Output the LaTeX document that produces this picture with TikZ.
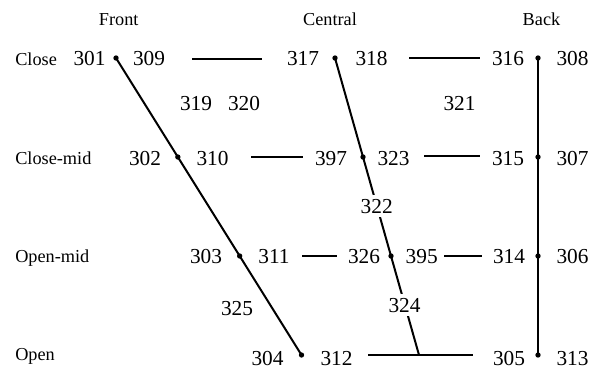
\documentclass[tikz,border=0pt]{standalone}
\usepackage{fontspec}
\setmainfont{Liberation Serif}
\usetikzlibrary{calc}

\begin{document}
\begin{tikzpicture}[x=0.75pt,y=-0.75pt,
	vline/.style={line width=1.5pt},
	num/.style={anchor=base,fill=white,inner sep=3pt,font=\fontsize{16}{16}\selectfont},
	lab/.style={anchor=base west,inner sep=0pt,font=\fontsize{13.7}{14}\selectfont},
	head/.style={anchor=base,inner sep=0pt,font=\fontsize{13.7}{14}\selectfont}]
	\useasboundingbox (0,0) rectangle (602,368);
	
	% corners of the chart
	\coordinate (F1) at (116,58);
	\coordinate (F4) at (301.5,355);
	\coordinate (C1) at (335,58);
	\coordinate (C4) at (419,355);
	\coordinate (B1) at (538,58);
	\coordinate (B4) at (538,355);
	\coordinate (F2) at ($(F1)!1/3!(F4)$);
	\coordinate (F3) at ($(F1)!2/3!(F4)$);
	\coordinate (C2) at ($(C1)!1/3!(C4)$);
	\coordinate (C3) at ($(C1)!2/3!(C4)$);
	\coordinate (B2) at ($(B1)!1/3!(B4)$);
	\coordinate (B3) at ($(B1)!2/3!(B4)$);
	
	% ends of the short rules
	\coordinate (h1a) at (192,59);
	\coordinate (h1b) at (262,59);
	\coordinate (h1c) at (409,58);
	\coordinate (h1d) at (480,58);
	\coordinate (h2a) at (251,157);
	\coordinate (h2b) at (303,157);
	\coordinate (h2c) at (424,156);
	\coordinate (h2d) at (480,156);
	\coordinate (h3a) at (302,256);
	\coordinate (h3b) at (337,256);
	\coordinate (h3c) at (444,256);
	\coordinate (h3d) at (482,256);
	\coordinate (h4a) at (368,355);
	\coordinate (h4b) at (473,355);
	
	\draw[vline] (F1)--(F4);
	\draw[vline] (C1)--(C4);
	\draw[vline] (B1)--(B4);
	\draw[vline] (h1a)--(h1b);
	\draw[vline] (h1c)--(h1d);
	\draw[vline] (h2a)--(h2b);
	\draw[vline] (h2c)--(h2d);
	\draw[vline] (h3a)--(h3b);
	\draw[vline] (h3c)--(h3d);
	\draw[vline] (h4a)--(h4b);
	
	% column and row heads
	\node[head] (front) at (118.7,25) {Front};
	\node[head] (central) at (330,25) {Central};
	\node[head] (back) at (541.5,25) {Back};
	\node[lab] (close) at (15,65) {Close};
	\node[lab] (closemid) at (15,164) {Close-mid};
	\node[lab] (openmid) at (15,262) {Open-mid};
	\node[lab] (open) at (15,360) {Open};
	
	% close
	\node[num] (n301) at (89.5,65) {301};
	\node[num] (n309) at (149,65) {309};
	\node[num] (n317) at (303,65) {317};
	\node[num] (n318) at (371.5,65) {318};
	\node[num] (n316) at (508,65) {316};
	\node[num] (n308) at (572.5,65) {308};
	\node[num] (n319) at (196,110) {319};
	\node[num] (n320) at (244,110) {320};
	\node[num] (n321) at (459.5,110) {321};
	
	% close-mid
	\node[num] (n302) at (145,165) {302};
	\node[num] (n310) at (212.5,165) {310};
	\node[num] (n397) at (331,165) {397};
	\node[num] (n323) at (393.5,165) {323};
	\node[num] (n315) at (508,165) {315};
	\node[num] (n307) at (572.5,165) {307};
	\node[num] (n322) at (376.7,213) {322};
	
	% open-mid
	\node[num] (n303) at (206,263) {303};
	\node[num] (n311) at (274,263) {311};
	\node[num] (n326) at (364,263) {326};
	\node[num] (n395) at (421.7,263) {395};
	\node[num] (n314) at (509,263) {314};
	\node[num] (n306) at (572.5,263) {306};
	\node[num] (n325) at (237,315) {325};
	\node[num] (n324) at (404.5,312) {324};
	
	% open
	\node[num] (n304) at (267.5,365) {304};
	\node[num] (n312) at (336.5,365) {312};
	\node[num] (n305) at (509,365) {305};
	\node[num] (n313) at (572.5,365) {313};
	
	% dots
	\foreach \p in {F1,F2,F3,F4,C1,C2,C3,B1,B2,B3,B4}
		\fill (\p) circle (2pt);
\end{tikzpicture}
\end{document}
